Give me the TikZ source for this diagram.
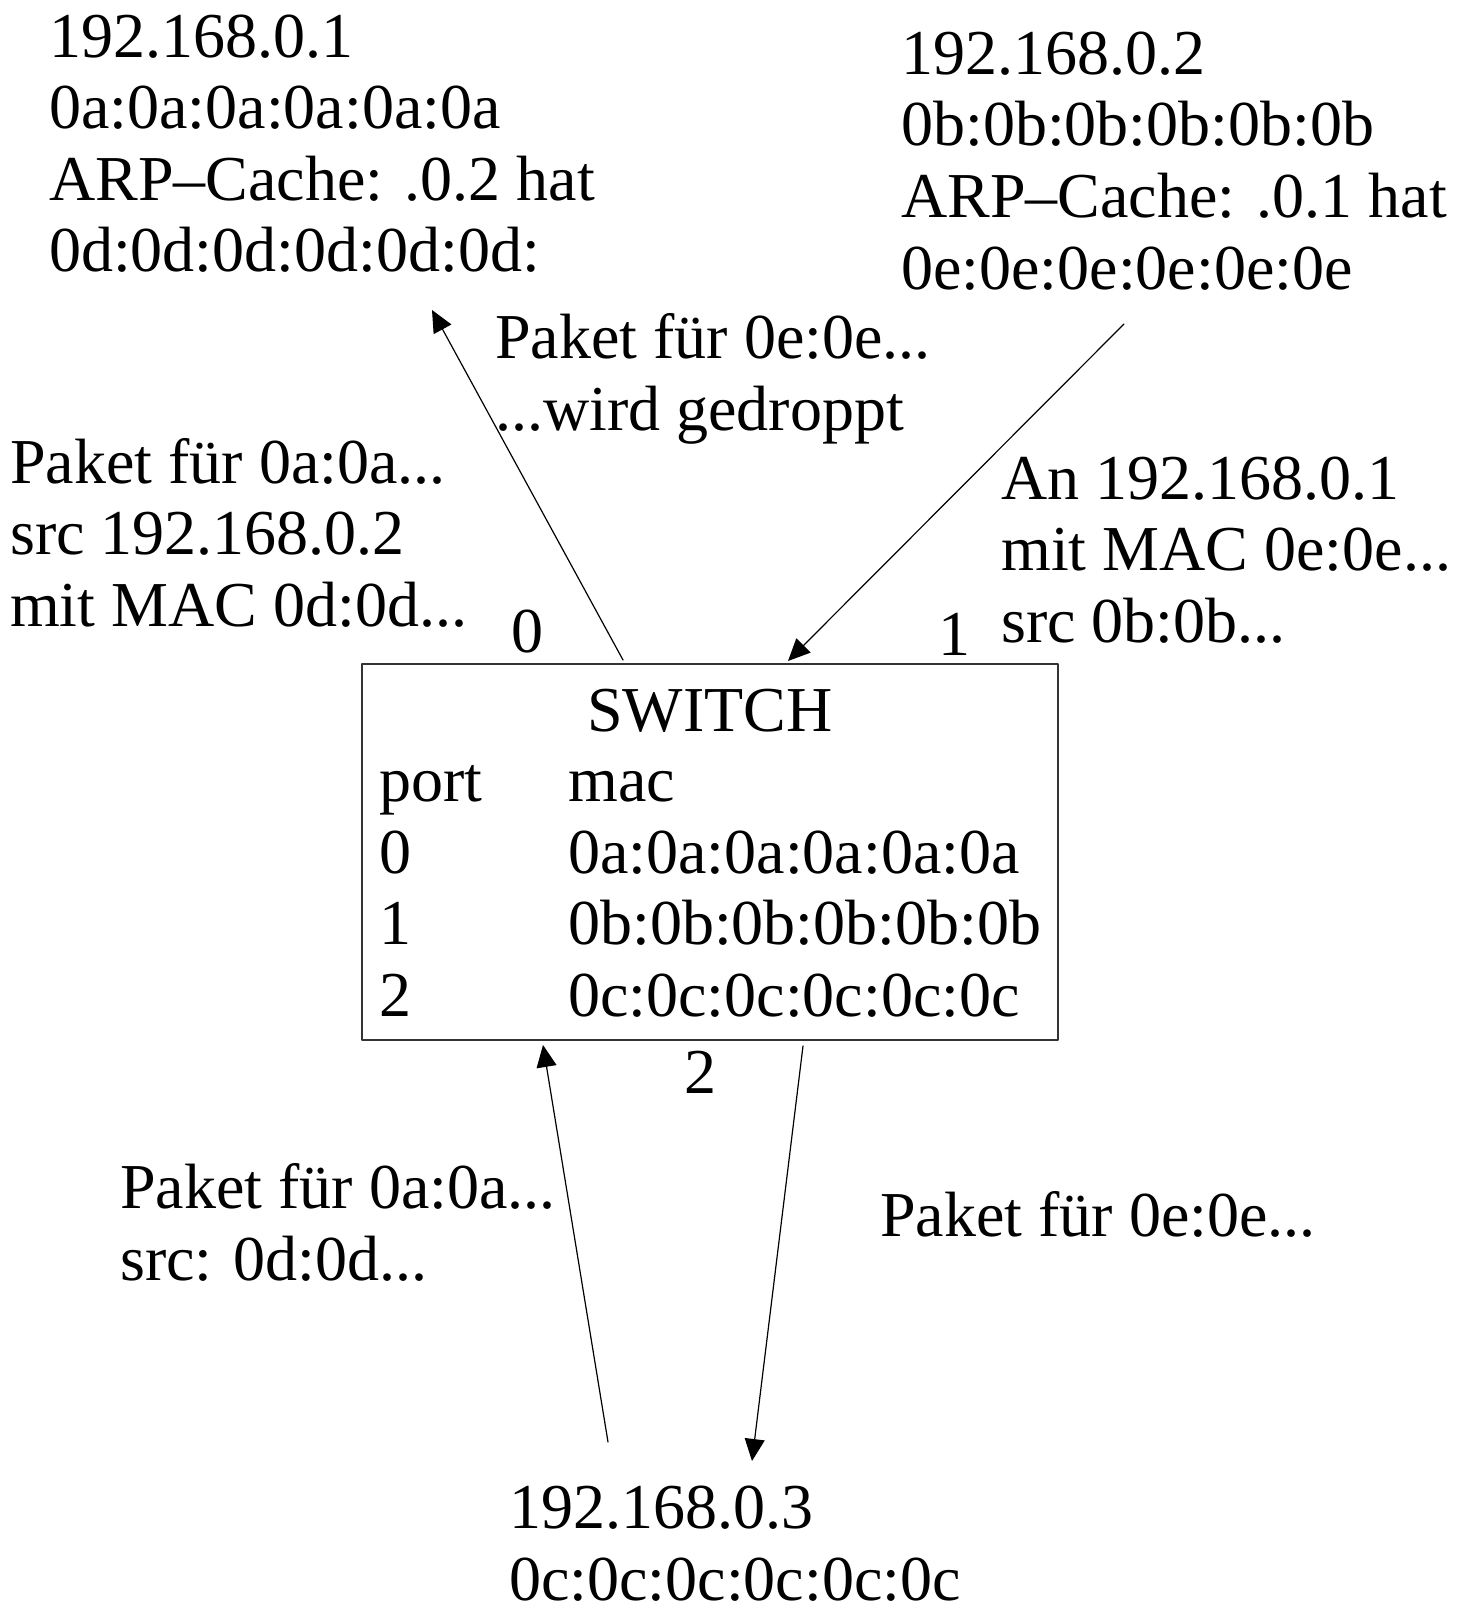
\documentclass[tikz,border=0pt]{standalone}
\usepackage{fontspec}
\setmainfont{Liberation Serif}
\usetikzlibrary{arrows.meta}

\begin{document}
\begin{tikzpicture}[line cap=round,line join=round,x=1pt,y=-1pt,
  txt/.style={inner sep=0pt,anchor=base west,align=left,font=\fontsize{64}{71.5}\selectfont},
  portno/.style={inner sep=0pt,anchor=base,font=\fontsize{64}{71.5}\selectfont},
  msg/.style={-{Triangle[length=22pt,width=20pt]},line width=1.2pt}]
\useasboundingbox (0,0) rectangle (1464,1605);
% hosts (placed at the baseline of their last line)
\node[txt] (hostA) at (49,272) {192.168.0.1\\0a:0a:0a:0a:0a:0a\\ARP--Cache: .0.2 hat\\0d:0d:0d:0d:0d:0d:};
\node[txt] (hostB) at (901,289) {192.168.0.2\\0b:0b:0b:0b:0b:0b\\ARP--Cache: .0.1 hat\\0e:0e:0e:0e:0e:0e};
\node[txt] (hostC) at (509,1600) {192.168.0.3\\0c:0c:0c:0c:0c:0c};
% switch
\draw[line width=1.2pt,draw=black!80] (362,664) rectangle (1058,1040);
\node[portno] (title) at (710,731) {SWITCH};
\node[txt] (tabport) at (379,1016) {port\\0\\1\\2};
\node[txt] (tabmac) at (568,1016) {mac\\0a:0a:0a:0a:0a:0a\\0b:0b:0b:0b:0b:0b\\0c:0c:0c:0c:0c:0c};
% ports
\node[portno] (port0) at (527,652) {0};
\node[portno] (port1) at (954,655) {1};
\node[portno] (port2) at (700,1093) {2};
% packets
\node[txt] (lblA) at (495,430) {Paket für 0e:0e...\\...wird gedroppt};
\node[txt] (lblL) at (10,626) {Paket für 0a:0a...\\src 192.168.0.2\\mit MAC 0d:0d...};
\node[txt] (lblR) at (1001,642) {An 192.168.0.1\\mit MAC 0e:0e...\\src 0b:0b...};
\node[txt] (lblBL) at (120,1280) {Paket für 0a:0a...\\src: 0d:0d...};
\node[txt] (lblBR) at (880,1236) {Paket für 0e:0e...};
% arrow ends
\coordinate (s0) at (623,660);
\coordinate (a0) at (432,310);
\coordinate (b1) at (1124,324);
\coordinate (s1) at (788,661);
\coordinate (c2) at (608,1442);
\coordinate (s2in) at (543,1045);
\coordinate (s2out) at (803,1046);
\coordinate (c2in) at (752,1461);
\draw[msg] (s0) -- (a0);
\draw[msg] (b1) -- (s1);
\draw[msg] (c2) -- (s2in);
\draw[msg] (s2out) -- (c2in);
\end{tikzpicture}
\end{document}
